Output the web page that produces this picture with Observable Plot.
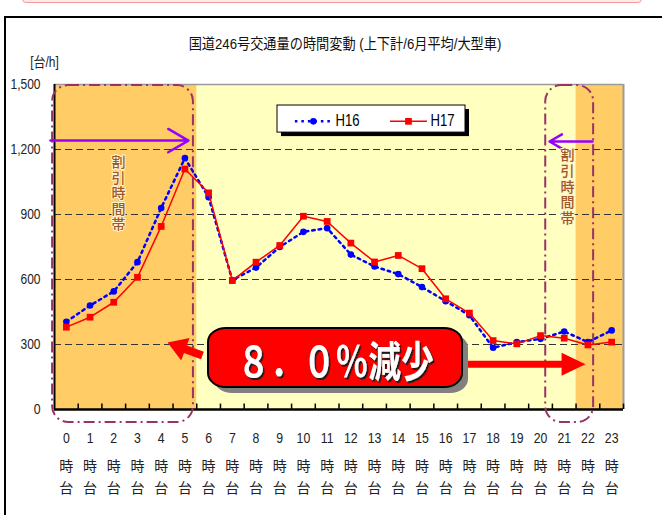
<!DOCTYPE html>
<html>
<head>
<meta charset="utf-8">
<script src="https://cdn.jsdelivr.net/npm/d3@7"></script>
<script src="https://cdn.jsdelivr.net/npm/@observablehq/plot@0.6"></script>
<style>
  body { margin: 0; background: #fff; }
  #wrap { position: relative; width: 662px; height: 515px; overflow: hidden; }
  #topbox { position: absolute; left: 22px; top: -8px; width: 618px; height: 9px;
            background: #ffeaea; border: 1.5px solid #f09a9a; border-radius: 4px; }
  #frame { position: absolute; left: 4px; top: 16px; width: 720px; height: 620px;
           border: 2px solid #000; }
  #chart { position: absolute; left: 0; top: 0; }
</style>
</head>
<body>
<div id="wrap">
  <div id="topbox"></div>
  <div id="frame"></div>
  <div id="chart"></div>
</div>
<script>
// 国道246号 hourly heavy-vehicle volume, both directions, June average [台/h]
const hours = d3.range(24);
const h16 = [405, 480, 545, 680, 930, 1160, 980, 597, 655, 750, 820, 837,
             715, 660, 625, 565, 500, 435, 285, 311, 326, 360, 311, 365];
const h17 = [380, 426, 495, 610, 845, 1110, 1000, 595, 680, 757, 892, 868,
             768, 681, 711, 650, 511, 445, 318, 303, 341, 329, 298, 311];
const seriesNames = ["H16", "H17"];
const yTicks = [0, 300, 600, 900, 1200, 1500];
const gridValues = [300, 600, 900, 1200];
const titleText = "国道246号交通量の時間変動 (上下計/6月平均/大型車)";
const unitText = "[台/h]";
const discountText = "割引時間帯";
const calloutText = "８．０％減少";

const table = hours.map((h, i) => ({hour: h, H16: h16[i], H17: h17[i]}));

// frame geometry
const W = 662, H = 515, mL = 54, mR = 39, mT = 84, mB = 106;
const kx = (W - mL - mR) / 24;      // px per hour
const ky = (H - mT - mB) / 1500;    // px per 台/h

const FONT = '"Liberation Sans", "Noto Sans CJK JP", sans-serif';
const CJK = '"Noto Sans CJK JP", sans-serif';

// filled block arrow (shaft + triangular head) expressed in data units
function blockArrow(from, to, shaftW, headW, headL) {
  const toPx = ([h, v]) => [(h + 0.5) * kx, -v * ky];
  const toData = ([px, py]) => [px / kx - 0.5, -py / ky];
  const [ax, ay] = toPx(from), [bx, by] = toPx(to);
  const len = Math.hypot(bx - ax, by - ay);
  const ux = (bx - ax) / len, uy = (by - ay) / len, nx = -uy, ny = ux;
  const cx = bx - ux * headL, cy = by - uy * headL;
  return [
    [ax + nx * shaftW / 2, ay + ny * shaftW / 2],
    [cx + nx * shaftW / 2, cy + ny * shaftW / 2],
    [cx + nx * headW / 2, cy + ny * headW / 2],
    [bx, by],
    [cx - nx * headW / 2, cy - ny * headW / 2],
    [cx - nx * shaftW / 2, cy - ny * shaftW / 2],
    [ax - nx * shaftW / 2, ay - ny * shaftW / 2]
  ].map(toData);
}

const arrowLeft = blockArrow([5.74, 249], [4.27, 309], 8, 24, 19);
const arrowRight = blockArrow([16.4, 209], [21.9, 209], 7, 23, 24);

// discount-hour bands (orange) over the normal-hour background (yellow)
const bands = [
  {x1: -0.5, x2: 23.5, fill: "#FFFFC0"},
  {x1: -0.5, x2: 5.5, fill: "#FFCC66"},
  {x1: 21.5, x2: 23.5, fill: "#FFCC66"}
];
const discountBoxes = [
  {x1: -0.58, x2: 5.36},
  {x1: 20.22, x2: 22.24}
];

const chart = Plot.plot({
  width: W, height: H,
  marginLeft: mL, marginRight: mR, marginTop: mT, marginBottom: mB,
  x: {domain: [-0.5, 23.5], axis: null},
  y: {domain: [0, 1500], axis: null},
  style: {fontFamily: FONT, background: "transparent", overflow: "visible", color: "#000"},
  marks: [
    // plot background
    Plot.rect(bands, {x1: "x1", x2: "x2", y1: 0, y2: 1500, fill: d => d.fill}),
    // gridlines
    Plot.ruleY(gridValues, {stroke: "#333", strokeWidth: 1, strokeDasharray: "7,4"}),
    Plot.ruleY([1500], {stroke: "#9a9a9a", strokeWidth: 1.5}),
    Plot.ruleX([23.5], {y1: 0, y2: 1500, stroke: "#9a9a9a", strokeWidth: 2}),
    // axes
    Plot.ruleX([-0.5], {y1: 0, y2: 1500, stroke: "#000", strokeWidth: 2}),
    Plot.ruleY([0], {stroke: "#000", strokeWidth: 2.5}),
    Plot.ruleX(d3.range(0.5, 24, 1), {y1: 0, y2: 25, stroke: "#000", strokeWidth: 1.5}),
    Plot.text(yTicks, {y: d => d, frameAnchor: "left", dx: -14, textAnchor: "end",
      lineAnchor: "middle", text: d => d3.format(",")(d), fontSize: 15, fill: "#222"}),
    Plot.text(hours, {x: d => d, frameAnchor: "bottom", dy: 29, lineAnchor: "middle",
      text: d => String(d), fontSize: 15, fill: "#222"}),
    Plot.text(hours, {x: d => d, frameAnchor: "bottom", dy: 57, lineAnchor: "middle",
      text: () => "時", fontSize: 14, fill: "#222", fontFamily: CJK}),
    Plot.text(hours, {x: d => d, frameAnchor: "bottom", dy: 79, lineAnchor: "middle",
      text: () => "台", fontSize: 14, fill: "#222", fontFamily: CJK}),
    // title and unit
    Plot.text([titleText], {frameAnchor: "top", dx: 6, dy: -40, lineAnchor: "middle",
      fontSize: 15, fill: "#111"}),
    Plot.text([unitText], {frameAnchor: "top-left", dx: -10, dy: -22, lineAnchor: "middle",
      textAnchor: "middle", fontSize: 14, fill: "#222"}),
    // discount-hour outlines
    Plot.rect(discountBoxes, {x1: "x1", x2: "x2", y1: -60, y2: 1495, rx: 16, ry: 16,
      fill: "none", stroke: "#993366", strokeWidth: 2, strokeDasharray: "11,4,2,4"}),
    Plot.arrow([{x1: -0.67, x2: 5.15, y: 1241}, {x1: 22.19, x2: 20.38, y: 1237}], {
      x1: "x1", x2: "x2", y1: "y", y2: "y", stroke: "#9900FF", strokeWidth: 2.5,
      headLength: 14, headAngle: 60}),
    Plot.text([{x: 2.2, y: 1017}, {x: 21.14, y: 1047}], {x: "x", y: "y", text: () => discountText,
      fontSize: 14, fontFamily: CJK, fontWeight: 500, fill: "#A0582A",
      stroke: "#FFF4CC", strokeWidth: 2, paintOrder: "stroke"}),
    // series
    Plot.line(table, {x: "hour", y: "H16", stroke: "#0000FF", strokeWidth: 2.5,
      strokeDasharray: "2.5,4"}),
    Plot.dot(table, {x: "hour", y: "H16", r: 3.3, fill: "#0000FF", stroke: "none"}),
    Plot.line(table, {x: "hour", y: "H17", stroke: "#FF0000", strokeWidth: 1.5}),
    Plot.dot(table, {x: "hour", y: "H17", symbol: "square", r: 3.8, fill: "#FF0000", stroke: "none"}),
    // legend
    Plot.rect([0], {x1: 8.906, x2: 16.836, y1: 1278, y2: 1403, fill: "#000", dx: 4, dy: 4}),
    Plot.rect([0], {x1: 8.906, x2: 16.836, y1: 1278, y2: 1403, fill: "#fff", stroke: "#000", strokeWidth: 1}),
    Plot.ruleY([1330], {x1: 9.66, x2: 11.23, stroke: "#0000FF", strokeWidth: 2.5, strokeDasharray: "2.5,4"}),
    Plot.dot([0], {x: 10.42, y: 1330, r: 3.3, fill: "#0000FF"}),
    Plot.ruleY([1330], {x1: 13.67, x2: 15.23, stroke: "#FF0000", strokeWidth: 1.5}),
    Plot.dot([0], {x: 14.43, y: 1330, symbol: "square", r: 3.8, fill: "#FF0000"}),
    Plot.text([{x: 11.35, name: seriesNames[0]}, {x: 15.36, name: seriesNames[1]}], {
      x: "x", y: 1330, text: "name", textAnchor: "start", fontSize: 16, fill: "#000"}),
    // 8.0% decrease callout
    Plot.line(arrowLeft, {x: d => d[0], y: d => d[1], fill: "#FF0000", stroke: "none"}),
    Plot.line(arrowRight, {x: d => d[0], y: d => d[1], fill: "#FF0000", stroke: "none"}),
    Plot.rect([0], {x1: 5.996, x2: 16.71, y1: 101, y2: 374, rx: 18, ry: 14,
      fill: "#808080", dx: 6, dy: 6}),
    Plot.rect([0], {x1: 5.996, x2: 16.71, y1: 101, y2: 374, rx: 18, ry: 14,
      fill: "#FF0000", stroke: "#000", strokeWidth: 2}),
    Plot.text([calloutText], {x: 11.35, y: 214, fontSize: 42, fontWeight: "bold",
      fontFamily: CJK, fill: "#fff"})
  ]
});

// condensed lettering: narrow each text horizontally about its anchor
const narrow = new Map([
  [calloutText, 0.78],
  [titleText, 0.88],
  [unitText, 0.85],
  [seriesNames[0], 0.82],
  [seriesNames[1], 0.82]
]);
yTicks.forEach(v => narrow.set(d3.format(",")(v), 0.8));
hours.forEach(h => narrow.set(String(h), 0.82));
for (const t of chart.querySelectorAll("text")) {
  const k = narrow.get(t.textContent);
  if (k) {
    const tr = t.getAttribute("transform") || "";
    t.setAttribute("transform", tr + ` scale(${k},1)`);
  }
  // the discount-hour label is set top-to-bottom
  if (t.textContent === discountText) {
    t.removeAttribute("dy");
    t.style.writingMode = "vertical-rl";
    t.style.letterSpacing = "1.6px";
  }
}

// dark drop shadow behind the callout lettering
const ns = "http://www.w3.org/2000/svg";
const defs = document.createElementNS(ns, "defs");
defs.innerHTML = '<filter id="callout-shadow" x="-10%" y="-20%" width="130%" height="150%">' +
  '<feDropShadow dx="2" dy="2" stdDeviation="0.4" flood-color="#1a1a1a" flood-opacity="1"/></filter>';
chart.insertBefore(defs, chart.firstChild);
for (const t of chart.querySelectorAll("text")) {
  if (t.textContent === calloutText) t.setAttribute("filter", "url(#callout-shadow)");
}

document.getElementById("chart").appendChild(chart);
</script>
</body>
</html>
